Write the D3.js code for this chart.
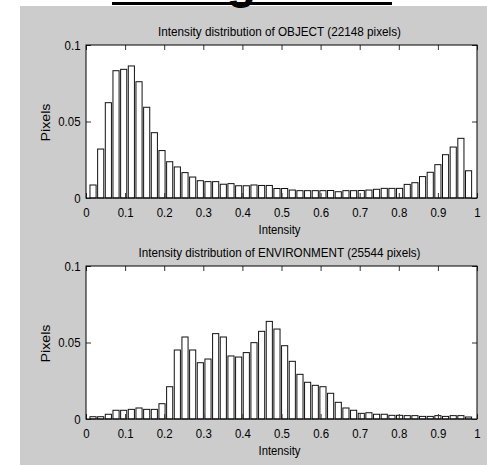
<!DOCTYPE html>
<html><head><meta charset="utf-8">
<script src="https://cdn.jsdelivr.net/npm/d3@7"></script>
<style>
body{margin:0;background:#fff}
svg{display:block}
text{font-family:"Liberation Sans",Arial,Helvetica,sans-serif}
</style>
</head><body>
<svg id="c" width="487" height="465"></svg>
<script>
// ---- data ----
const binCount = 50, binFirst = 0.018, binStep = 0.0196;
const binCenters = d3.range(binCount).map(i => binFirst + i * binStep);

const objectValues = [
  0.0085, 0.0320, 0.0623, 0.0832, 0.0841, 0.0863, 0.0760, 0.0593, 0.0427, 0.0310,
  0.0237, 0.0203, 0.0166, 0.0137, 0.0113, 0.0107, 0.0107, 0.0090, 0.0094, 0.0080,
  0.0080, 0.0085, 0.0082, 0.0082, 0.0062, 0.0062, 0.0052, 0.0048, 0.0048, 0.0048,
  0.0048, 0.0049, 0.0041, 0.0048, 0.0048, 0.0049, 0.0052, 0.0057, 0.0063, 0.0063,
  0.0063, 0.0089, 0.0100, 0.0140, 0.0168, 0.0218, 0.0283, 0.0333, 0.0390, 0.0178
];
const environmentValues = [
  0.0015, 0.0015, 0.0031, 0.0057, 0.0057, 0.0063, 0.0072, 0.0063, 0.0063, 0.0100,
  0.0211, 0.0451, 0.0536, 0.0451, 0.0368, 0.0392, 0.0558, 0.0536, 0.0412, 0.0405,
  0.0434, 0.0499, 0.0573, 0.0638, 0.0588, 0.0479, 0.0377, 0.0292, 0.0240, 0.0220,
  0.0211, 0.0168, 0.0109, 0.0072, 0.0057, 0.0037, 0.0041, 0.0031, 0.0031, 0.0024,
  0.0024, 0.0022, 0.0022, 0.0017, 0.0017, 0.0022, 0.0017, 0.0022, 0.0022, 0.0013
];
const xTicks = [0, 0.1, 0.2, 0.3, 0.4, 0.5, 0.6, 0.7, 0.8, 0.9, 1];
const xTickLabels = ["0","0.1","0.2","0.3","0.4","0.5","0.6","0.7","0.8","0.9","1"];
const yTicks = [0, 0.05, 0.1];
const yTickLabels = ["0", "0.05", "0.1"];
const titles = ["Intensity distribution of OBJECT (22148 pixels)",
                "Intensity distribution of ENVIRONMENT (25544 pixels)"];
const xLabel = "Intensity", yLabel = "Pixels";
const headerText = "Background";

// ---- drawing ----
const svg = d3.select("#c");
svg.append("rect").attr("x",0).attr("y",0).attr("width",487).attr("height",465).attr("fill","#fff");
svg.append("rect").attr("x",20).attr("y",6).attr("width",467).attr("height",459).attr("fill","#cccccc");

// cut-off header with underline (only its descender shows, as in the source)
svg.append("text").attr("x",112).attr("y",-2).attr("font-size",48).attr("font-weight","bold")
  .attr("textLength",280).attr("lengthAdjust","spacingAndGlyphs").text(headerText);
svg.append("rect").attr("x",112).attr("y",2).attr("width",280).attr("height",3).attr("fill","#000");

const L = 86, R = 477;
const panels = [
  {top:45, bottom:198, values:objectValues, title:titles[0], tw:243},
  {top:266, bottom:419, values:environmentValues, title:titles[1], tw:282}
];
const x = d3.scaleLinear().domain([0,1]).range([L,R]);
const barW = (x(binStep) - x(0)) * 0.8;

function condense(sel, f){
  sel.each(function(){
    const w = this.getComputedTextLength();
    if (w > 0) d3.select(this).attr("textLength", w*f).attr("lengthAdjust","spacingAndGlyphs");
  });
}

panels.forEach(p => {
  const y = d3.scaleLinear().domain([0,0.1]).range([p.bottom,p.top]);
  const g = svg.append("g");
  g.append("rect").attr("x",L).attr("y",p.top).attr("width",R-L).attr("height",p.bottom-p.top)
    .attr("fill","#fff");
  g.selectAll("rect.bar").data(p.values).join("rect").attr("class","bar")
    .attr("x",(d,i)=>x(binCenters[i]) - barW/2)
    .attr("y",d=>y(d))
    .attr("width",barW)
    .attr("height",d=>y(0)-y(d))
    .attr("fill","#fff").attr("stroke","#111").attr("stroke-width",1);

  const tk = 5;
  const ax = [
    g.append("g").attr("transform",`translate(0,${p.bottom})`)
      .call(d3.axisBottom(x).tickValues(xTicks).tickFormat((d,i)=>xTickLabels[i]).tickSizeInner(-tk).tickSizeOuter(0).tickPadding(9.5)),
    g.append("g").attr("transform",`translate(0,${p.top})`)
      .call(d3.axisTop(x).tickValues(xTicks).tickFormat("").tickSizeInner(-tk).tickSizeOuter(0)),
    g.append("g").attr("transform",`translate(${L},0)`)
      .call(d3.axisLeft(y).tickValues(yTicks).tickFormat((d,i)=>yTickLabels[i]).tickSizeInner(-tk).tickSizeOuter(0).tickPadding(5.5)),
    g.append("g").attr("transform",`translate(${R},0)`)
      .call(d3.axisRight(y).tickValues(yTicks).tickFormat("").tickSizeInner(-tk).tickSizeOuter(0))
  ];
  ax.forEach(a => {
    a.select(".domain").remove();
    a.selectAll("line").attr("stroke","#333");
    a.selectAll("text").attr("font-size",13).attr("fill","#000").attr("font-family",null);
    condense(a.selectAll("text"), 0.88);
  });
  g.append("rect").attr("x",L).attr("y",p.top).attr("width",R-L).attr("height",p.bottom-p.top)
    .attr("fill","none").attr("stroke","#000").attr("stroke-width",1);

  g.append("text").attr("x",279.5).attr("y",p.top-9).attr("text-anchor","middle")
    .attr("font-size",13).attr("textLength",p.tw).attr("lengthAdjust","spacingAndGlyphs").text(p.title);
  g.append("text").attr("x",279.5).attr("y",p.bottom+35.5).attr("text-anchor","middle")
    .attr("font-size",13).attr("textLength",42).attr("lengthAdjust","spacingAndGlyphs").text(xLabel);
  g.append("text").attr("transform",`translate(50,${(p.top+p.bottom)/2+1}) rotate(-90)`)
    .attr("text-anchor","middle").attr("font-size",13)
    .attr("textLength",38).attr("lengthAdjust","spacingAndGlyphs").text(yLabel);
});
</script>
</body></html>
